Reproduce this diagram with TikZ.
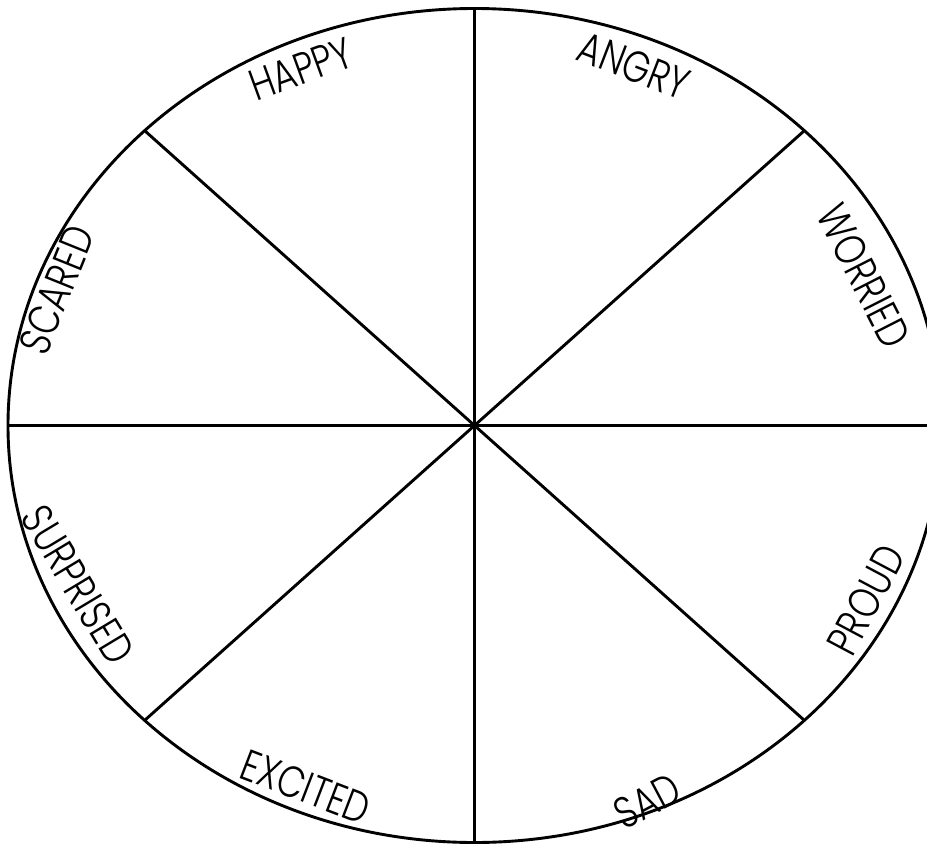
\documentclass[tikz,border=0pt]{standalone}
\usepackage{fontspec}
\newfontfamily\lbl{Poppins Light}[FakeStretch=0.8]
\begin{document}
\begin{tikzpicture}[x=1pt,y=-1pt,
  rim/.style={line width=2.9pt},
  lab/.style={font=\lbl\fontsize{44}{44}\selectfont, inner sep=0pt}]
\useasboundingbox (0,0) rectangle (927,846);
\clip (0,0) rectangle (927,846);
\coordinate (c) at (474.5,425.5);
\coordinate (n) at (474.5,8.5);
\coordinate (s) at (474.5,842.5);
\coordinate (w) at (8,425.5);
\coordinate (e) at (941,425.5);
\coordinate (nw) at (144.6,130.6);
\coordinate (ne) at (804.4,130.6);
\coordinate (sw) at (144.6,720.4);
\coordinate (se) at (804.4,720.4);
\draw[rim] (c) ellipse [x radius=466.5, y radius=417];
\draw[rim] (n) -- (s);
\draw[rim] (w) -- (e);
\draw[rim] (nw) -- (se);
\draw[rim] (ne) -- (sw);
\node[lab, rotate=20]  (happy)     at (301,69)  {HAPPY};
\node[lab, rotate=-21] (angry)     at (634,66)  {ANGRY};
\node[lab, rotate=-63] (worried)   at (864,276) {WORRIED};
\node[lab, rotate=68]  (scared)    at (57,290)  {SCARED};
\node[lab, rotate=-59] (surprised) at (78,585)  {SURPRISED};
\node[lab, rotate=62]  (proud)     at (866,600) {PROUD};
\node[lab, rotate=-21] (excited)   at (306,787) {EXCITED};
\node[lab, rotate=28]  (sad)       at (647,801) {SAD};
\end{tikzpicture}
\end{document}
